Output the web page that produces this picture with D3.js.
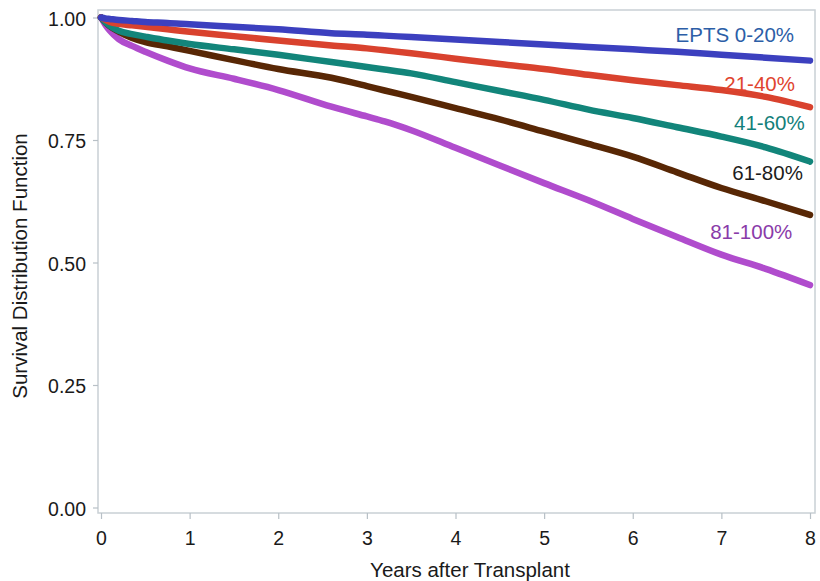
<!DOCTYPE html>
<html>
<head>
<meta charset="utf-8">
<script src="https://cdn.jsdelivr.net/npm/d3@7"></script>
<style>
    body { margin: 0; background: #fff; }
    svg { display: block; font-family: "Liberation Sans", Arial, Helvetica, sans-serif; }
</style>
</head>
<body>
<div id="chart"></div>
<script>
'use strict';

// years after transplant, shared by all curves
const years = [0, 0.05, 0.1, 0.2, 0.35, 0.5, 0.75, 1, 1.5, 2, 2.6, 3, 3.2, 3.5, 4, 4.5, 5, 5.5, 6, 6.5, 7, 7.5, 8];

const epts0to20 = [1, 0.998, 0.997, 0.995, 0.993, 0.991, 0.989, 0.986, 0.981, 0.976, 0.968, 0.965, 0.963, 0.960, 0.955, 0.950, 0.945, 0.940, 0.935, 0.930, 0.924, 0.918, 0.912];
const epts21to40 = [1, 0.995, 0.991, 0.987, 0.984, 0.981, 0.976, 0.971, 0.962, 0.953, 0.943, 0.937, 0.933, 0.927, 0.916, 0.905, 0.895, 0.883, 0.872, 0.862, 0.852, 0.838, 0.817];
const epts41to60 = [1, 0.990, 0.983, 0.973, 0.966, 0.961, 0.953, 0.946, 0.935, 0.924, 0.909, 0.899, 0.894, 0.886, 0.868, 0.850, 0.832, 0.812, 0.795, 0.776, 0.757, 0.735, 0.706];
const epts61to80 = [1, 0.990, 0.982, 0.971, 0.958, 0.950, 0.941, 0.932, 0.913, 0.895, 0.877, 0.860, 0.851, 0.838, 0.815, 0.792, 0.767, 0.742, 0.716, 0.684, 0.652, 0.625, 0.597];
const epts81to100 = [1, 0.985, 0.973, 0.956, 0.942, 0.930, 0.912, 0.896, 0.875, 0.852, 0.818, 0.798, 0.788, 0.770, 0.734, 0.698, 0.662, 0.627, 0.589, 0.552, 0.516, 0.487, 0.454];

const seriesNames = ['EPTS 0-20%', '21-40%', '41-60%', '61-80%', '81-100%'];
const seriesValues = [epts0to20, epts21to40, epts41to60, epts61to80, epts81to100];

const xTicks = [0, 1, 2, 3, 4, 5, 6, 7, 8];
const yTicks = [0, 0.25, 0.5, 0.75, 1];

// label anchors in data units (year, survival)
const labelYears = [7.82, 7.83, 7.94, 7.92, 7.80];
const labelValues = [0.950, 0.850, 0.770, 0.668, 0.548];

const lineColors = ['#3c40bf', '#d9422e', '#12857a', '#582705', '#b04ccd'];
const labelColors = ['#2c5ea7', '#e0442e', '#13807a', '#1c1c1c', '#8a3ba9'];

(function(doc) {
    const width = 820;
    const height = 581;
    const frame = {left: 98, top: 10, right: 815, bottom: 513};

    const svg = d3.select('#chart').append('svg')
        .attr('width', width)
        .attr('height', height);

    const x = d3.scaleLinear().domain([0, 8]).range([101, 810]);
    const y = d3.scaleLinear().domain([0, 1]).range([507.5, 17.5]);

    svg.append('rect')
        .attr('x', frame.left)
        .attr('y', frame.top)
        .attr('width', frame.right - frame.left)
        .attr('height', frame.bottom - frame.top)
        .attr('fill', 'none')
        .attr('stroke', '#c9d0d5')
        .attr('stroke-width', 1.5);

    const xAxis = svg.append('g')
        .attr('transform', `translate(0, ${frame.bottom})`)
        .call(d3.axisBottom(x).tickValues(xTicks).tickSize(6).tickPadding(12).tickFormat(d3.format('d')));
    const yAxis = svg.append('g')
        .attr('transform', `translate(${frame.left}, 0)`)
        .call(d3.axisLeft(y).tickValues(yTicks).tickSize(5).tickPadding(7).tickFormat(d3.format('.2f')));

    for (const axis of [xAxis, yAxis]) {
        axis.select('.domain').remove();
        axis.selectAll('.tick line').attr('stroke', '#b8c0c6').attr('stroke-width', 1.2);
        axis.selectAll('.tick text')
            .attr('fill', '#1a1a1a')
            .style('font-size', '19.5px');
    }
    yAxis.selectAll('.tick text').attr('dy', '0.4em');

    svg.append('text')
        .attr('x', 470)
        .attr('y', 577)
        .attr('text-anchor', 'middle')
        .attr('fill', '#1a1a1a')
        .style('font-size', '20.5px')
        .text('Years after Transplant');

    svg.append('text')
        .attr('transform', 'translate(27, 266) rotate(-90)')
        .attr('text-anchor', 'middle')
        .attr('fill', '#1a1a1a')
        .style('font-size', '20.5px')
        .text('Survival Distribution Function');

    const line = d3.line()
        .curve(d3.curveMonotoneX)
        .x((d) => x(d[0]))
        .y((d) => y(d[1]));

    // draw worst survival first so the top curves sit over it
    for (let i = seriesValues.length - 1; i >= 0; i--) {
        const points = years.map((yr, j) => [yr, seriesValues[i][j]]);
        svg.append('path')
            .datum(points)
            .attr('d', line)
            .attr('fill', 'none')
            .attr('stroke', lineColors[i])
            .attr('stroke-width', 6.5)
            .attr('stroke-linejoin', 'round')
            .attr('stroke-linecap', 'round');
    }

    seriesNames.forEach((name, i) => {
        svg.append('text')
            .attr('x', x(labelYears[i]))
            .attr('y', y(labelValues[i]))
            .attr('text-anchor', 'end')
            .attr('fill', labelColors[i])
            .style('font-size', '20.5px')
            .text(name);
    });

}(document));
</script>
</body>
</html>
